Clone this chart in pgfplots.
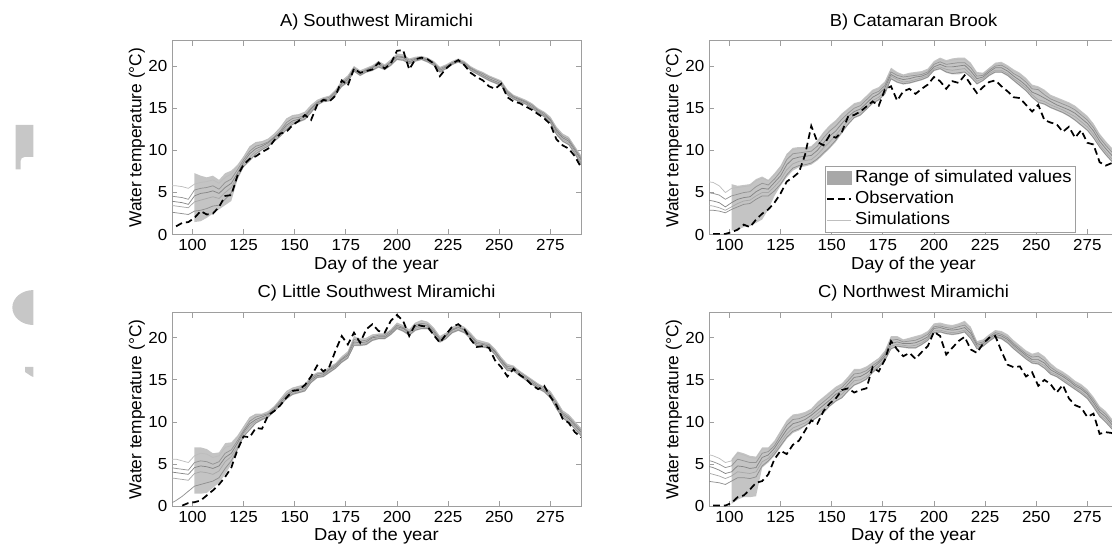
\documentclass[border=0pt]{standalone}
\usepackage{pgfplots}
\pgfplotsset{compat=1.18}
\usepackage{pgfplotstable}
\usepgfplotslibrary{fillbetween}
\usepackage{fontspec}
\setmainfont{Liberation Sans}[FakeStretch=1.06]
\newfontfamily\ylfont{Liberation Sans}
\newcommand\lblfont{\fontsize{13}{15.5}\selectfont}
\newcommand\tickfont{\fontsize{12}{14}\selectfont}
\definecolor{bandc}{gray}{0.77}
\definecolor{legc}{gray}{0.66}
\definecolor{axc}{gray}{0.62}
\definecolor{wm}{gray}{0.78}

\pgfplotstableread{
d lo hi s1 s2 s3 s4 s5 obs
89 0 0 5.8 4.6 4.0 3.5 2.7 nan
92 0 0 5.8 4.5 3.9 3.4 2.6 1.0
95 0 0 5.7 4.4 3.8 3.3 2.5 1.4
98 0 0 5.5 4.2 3.6 3.2 2.4 1.5
101 1.5 7.3 6.0 5.3 4.6 3.9 2.8 2.0
104 1.6 7.0 6.2 5.5 4.9 4.1 2.9 2.8
107 2.0 6.8 6.3 5.6 5.0 4.3 3.1 2.4
110 2.5 7.0 6.5 5.8 5.2 4.5 3.4 2.5
113 3.0 6.5 6.1 5.4 4.9 4.3 3.5 3.3
116 3.5 7.3 6.8 6.2 5.6 5.0 4.2 4.6
119 4.0 7.6 7.2 6.6 6.1 5.6 5.0 4.7
122 6.5 8.3 8.1 7.7 7.3 7.0 6.8 7.0
125 8.0 9.3 9.2 8.9 8.6 8.3 8.1 8.3
128 8.7 10.5 10.4 9.9 9.6 9.2 8.8 9.0
131 9.5 11.0 10.9 10.5 10.2 9.9 9.6 9.3
134 10.0 11.1 11.0 10.7 10.5 10.3 10.1 9.8
137 10.4 11.4 11.3 11.0 10.9 10.7 10.5 10.2
140 11.0 12.0 11.9 11.6 11.5 11.3 11.1 11.2
143 11.6 12.8 12.7 12.3 12.1 11.9 11.7 12.0
146 12.4 13.8 13.7 13.3 13.0 12.8 12.5 12.2
149 13.0 14.2 14.1 13.8 13.5 13.3 13.1 13.0
152 13.3 14.3 14.2 13.9 13.7 13.5 13.4 13.5
155 13.6 14.6 14.5 14.2 14.0 13.8 13.7 14.2
158 14.4 15.4 15.3 15.0 14.9 14.7 14.5 13.6
161 15.3 16.0 15.9 15.7 15.6 15.5 15.4 15.4
164 15.7 16.3 16.2 16.1 16.0 15.9 15.8 16.0
167 15.8 16.5 16.4 16.3 16.1 16.0 15.9 15.8
170 16.5 17.2 17.1 17.0 16.8 16.7 16.6 16.5
173 17.5 18.3 18.2 18.0 17.9 17.7 17.6 18.3
176 18.0 18.9 18.8 18.6 18.4 18.2 18.1 17.7
179 19.3 20.0 19.9 19.8 19.6 19.5 19.4 19.7
182 18.8 19.5 19.4 19.2 19.1 19.0 18.9 19.2
185 19.2 19.8 19.7 19.6 19.5 19.4 19.3 19.4
188 19.4 20.1 20.0 19.9 19.8 19.6 19.5 19.6
191 19.8 20.6 20.5 20.3 20.2 20.0 19.9 20.4
194 19.5 20.2 20.1 20.0 19.8 19.7 19.6 19.7
197 20.0 20.8 20.7 20.5 20.4 20.2 20.1 20.3
200 20.7 21.5 21.4 21.2 21.1 20.9 20.8 21.8
203 20.6 21.4 21.3 21.1 21.0 20.8 20.7 21.9
206 20.2 20.9 20.8 20.7 20.5 20.4 20.3 19.6
209 20.5 21.1 21.0 20.9 20.8 20.7 20.6 20.8
212 20.7 21.2 21.1 21.0 20.9 20.8 20.8 21.0
215 20.4 21.0 20.9 20.8 20.7 20.6 20.5 20.8
218 20.0 20.6 20.5 20.4 20.3 20.2 20.1 20.3
221 19.2 19.9 19.8 19.7 19.5 19.4 19.3 18.8
224 19.6 20.2 20.1 20.0 19.9 19.8 19.7 19.7
227 20.1 20.6 20.5 20.4 20.3 20.2 20.2 20.3
230 20.4 20.9 20.8 20.7 20.6 20.5 20.5 20.7
233 20.1 20.6 20.5 20.4 20.3 20.2 20.2 20.1
236 19.4 20.0 19.9 19.8 19.7 19.6 19.5 19.2
239 19.0 19.6 19.5 19.4 19.3 19.2 19.1 18.7
242 18.6 19.3 19.2 19.1 18.9 18.8 18.7 18.3
245 18.2 18.9 18.8 18.7 18.5 18.4 18.3 17.6
248 17.9 18.6 18.5 18.4 18.2 18.1 18.0 17.3
251 17.6 18.3 18.2 18.1 17.9 17.8 17.7 17.9
254 16.5 17.2 17.1 17.0 16.8 16.7 16.6 16.3
257 16.0 16.6 16.5 16.4 16.3 16.2 16.1 15.8
260 15.7 16.3 16.2 16.1 16.0 15.9 15.8 15.6
263 15.4 16.0 15.9 15.8 15.7 15.6 15.5 15.2
266 14.9 15.6 15.5 15.4 15.2 15.1 15.0 14.8
269 14.4 15.0 14.9 14.8 14.7 14.6 14.5 14.3
272 13.9 14.6 14.5 14.4 14.2 14.1 14.0 13.8
275 13.2 14.0 13.9 13.7 13.6 13.4 13.3 13.1
278 11.8 12.8 12.7 12.5 12.3 12.1 11.9 11.3
281 11.0 12.0 11.9 11.7 11.5 11.3 11.1 10.6
284 10.6 11.6 11.5 11.3 11.1 10.9 10.7 10.2
287 9.5 10.5 10.4 10.2 10.0 9.8 9.6 9.3
290 8.3 9.4 9.3 9.1 8.9 8.6 8.4 8.0
}\tA

\pgfplotstableread{
d lo hi s1 s2 s3 s4 s5 obs
89 0 0 6.3 5.0 4.1 3.5 2.9 nan
92 0 0 6.2 4.9 4.0 3.4 2.9 0.1
95 0 0 5.8 4.7 3.8 3.2 2.8 0.1
98 0 0 5.0 4.2 3.3 2.9 2.6 0.1
101 0.5 6.0 5.5 4.6 3.8 3.3 3.0 0.3
104 0.6 5.8 5.6 4.8 4.2 3.7 3.3 0.6
107 0.9 5.9 5.7 5.0 4.4 4.0 3.6 1.2
110 1.0 6.0 5.8 5.1 4.5 4.1 3.7 0.9
113 1.4 6.6 6.4 5.7 5.1 4.6 4.2 1.8
116 1.8 6.9 6.7 6.1 5.5 5.0 4.6 2.5
119 3.0 6.5 6.4 5.9 5.4 5.0 4.6 3.0
122 4.6 7.3 7.1 6.6 6.2 5.7 5.2 3.8
125 5.8 8.2 8.0 7.5 7.0 6.5 6.0 4.9
128 6.8 9.6 9.4 8.9 8.3 7.7 7.1 6.3
131 7.6 10.3 10.1 9.6 9.0 8.4 7.9 6.8
134 8.0 10.4 10.2 9.7 9.2 8.7 8.2 7.4
137 8.1 10.4 10.2 9.8 9.3 8.8 8.3 9.5
140 8.3 10.5 10.3 9.9 9.4 8.9 8.5 12.9
143 8.8 11.2 11.0 10.5 10.0 9.5 9.0 11.0
146 9.5 12.2 12.0 11.5 10.9 10.3 9.7 10.6
149 10.2 13.0 12.8 12.3 11.7 11.0 10.4 11.8
152 11.0 13.6 13.4 12.9 12.3 11.8 11.2 11.5
155 12.0 14.4 14.2 13.7 13.2 12.7 12.2 12.2
158 13.0 15.0 14.8 14.4 14.0 13.5 13.1 14.0
161 13.8 15.6 15.4 15.0 14.6 14.2 13.9 14.2
164 14.1 15.8 15.6 15.3 14.9 14.5 14.2 14.6
167 14.8 16.5 16.3 16.0 15.6 15.2 14.9 15.2
170 15.5 17.2 17.0 16.7 16.3 15.9 15.6 15.8
173 15.9 17.5 17.3 17.0 16.7 16.3 16.0 15.3
176 16.6 18.2 18.0 17.7 17.4 17.0 16.7 17.2
179 18.4 19.8 19.6 19.3 19.0 18.8 18.5 17.6
182 18.0 19.3 19.1 18.9 18.6 18.4 18.1 15.9
185 17.8 19.0 18.9 18.7 18.4 18.1 17.9 17.0
188 17.9 19.2 19.0 18.8 18.5 18.2 18.0 17.3
191 18.1 19.3 19.1 18.9 18.7 18.4 18.2 16.7
194 18.3 19.4 19.2 19.0 18.8 18.6 18.4 17.3
197 18.6 19.7 19.5 19.3 19.1 18.9 18.7 17.8
200 19.4 20.6 20.4 20.2 19.9 19.7 19.5 18.7
203 19.6 21.0 20.8 20.5 20.2 19.9 19.7 18.2
206 19.2 20.7 20.5 20.2 19.9 19.6 19.3 17.3
209 19.0 20.9 20.7 20.3 19.9 19.5 19.1 18.2
212 19.0 21.0 20.8 20.4 20.0 19.6 19.2 18.0
215 19.2 21.0 20.8 20.4 20.1 19.7 19.3 18.9
218 18.6 20.4 20.2 19.8 19.4 19.0 18.7 17.8
221 17.8 19.3 19.1 18.8 18.5 18.2 17.9 16.8
224 18.2 19.2 19.1 18.9 18.7 18.5 18.3 17.5
227 18.8 19.8 19.7 19.5 19.3 19.1 18.9 18.1
230 19.2 20.4 20.2 20.0 19.8 19.5 19.3 18.3
233 19.2 20.5 20.3 20.1 19.8 19.5 19.3 17.6
236 18.8 20.1 19.9 19.7 19.4 19.1 18.9 17.0
239 18.2 19.6 19.4 19.1 18.8 18.5 18.3 16.3
242 17.6 19.2 19.0 18.7 18.3 18.0 17.7 16.2
245 17.0 18.6 18.4 18.1 17.7 17.4 17.1 15.4
248 16.2 17.8 17.6 17.3 16.9 16.6 16.3 14.6
251 15.6 17.6 17.4 17.2 16.6 16.0 15.7 15.4
254 15.4 17.2 17.0 16.6 16.2 15.8 15.5 13.6
257 15.0 16.6 16.4 16.1 15.8 15.4 15.1 13.3
260 14.7 16.3 16.1 15.8 15.4 15.1 14.8 13.1
263 14.4 16.0 15.8 15.5 15.1 14.8 14.5 12.2
266 14.0 15.7 15.5 15.2 14.8 14.4 14.1 12.8
269 13.5 15.3 15.1 14.8 14.4 14.0 13.6 11.5
272 12.9 14.7 14.5 14.2 13.8 13.4 13.0 12.4
275 12.3 14.1 13.9 13.6 13.2 12.8 12.4 10.9
278 11.4 13.2 13.0 12.7 12.3 11.9 11.5 10.7
281 10.3 12.0 11.8 11.5 11.1 10.7 10.4 8.6
284 9.4 11.1 10.9 10.6 10.2 9.8 9.5 8.2
287 8.6 10.3 10.1 9.8 9.4 9.0 8.7 8.5
290 7.9 9.6 9.4 9.1 8.7 8.3 8.0 7.5
}\tB

\pgfplotstableread{
d lo hi s1 s2 s3 s4 s5 obs
89 0 0 5.6 4.6 4.1 3.4 0.3 nan
92 0 0 5.6 4.5 4.0 3.3 0.7 nan
95 0 0 5.4 4.4 3.9 3.2 1.2 0.1
98 0 0 5.2 4.3 3.8 3.1 1.8 0.4
101 1.5 7.0 6.0 5.2 4.6 3.9 2.4 0.5
104 1.5 7.0 6.3 5.4 4.8 4.1 2.6 0.7
107 1.6 6.8 6.2 5.3 4.7 4.0 2.8 1.3
110 2.2 6.3 5.8 5.0 4.5 3.8 3.0 1.9
113 2.8 6.4 6.0 5.3 4.8 4.2 3.4 2.6
116 3.8 7.5 7.0 6.3 5.8 5.3 4.5 3.5
119 5.0 7.6 7.2 6.7 6.3 5.9 5.4 4.6
122 6.6 8.4 8.2 7.8 7.5 7.1 6.8 6.7
125 8.2 9.5 9.4 9.0 8.8 8.6 8.3 8.3
128 9.0 10.6 10.5 10.1 9.8 9.5 9.1 8.2
131 9.8 11.0 10.9 10.6 10.3 10.1 9.9 9.3
134 10.2 11.0 10.9 10.8 10.6 10.4 10.3 9.2
137 10.5 11.3 11.2 11.0 10.9 10.7 10.6 10.8
140 11.2 11.9 11.8 11.7 11.5 11.4 11.3 11.3
143 11.9 12.8 12.7 12.5 12.3 12.1 12.0 12.0
146 12.7 13.7 13.6 13.3 13.1 12.9 12.8 12.9
149 13.2 14.1 14.0 13.8 13.6 13.4 13.3 13.7
152 13.4 14.3 14.2 14.0 13.8 13.6 13.5 13.8
155 13.6 14.5 14.4 14.2 14.0 13.8 13.7 14.4
158 14.6 15.5 15.4 15.2 15.0 14.8 14.7 15.4
161 15.2 15.9 15.8 15.7 15.5 15.4 15.3 16.7
164 15.3 16.0 15.9 15.8 15.6 15.5 15.4 16.0
167 15.8 16.6 16.5 16.3 16.2 16.0 15.9 16.6
170 16.3 17.0 16.9 16.8 16.6 16.5 16.4 18.5
173 17.0 17.8 17.7 17.5 17.4 17.2 17.1 20.2
176 17.5 18.4 18.3 18.1 17.9 17.7 17.6 19.2
179 19.0 20.2 20.0 19.8 19.5 19.3 19.1 20.6
182 19.0 19.9 19.8 19.6 19.4 19.2 19.1 19.4
185 19.1 20.0 19.9 19.7 19.5 19.3 19.2 21.0
188 19.6 20.4 20.3 20.1 20.0 19.8 19.7 21.6
191 19.8 20.5 20.4 20.3 20.1 20.0 19.9 20.8
194 19.8 20.5 20.4 20.3 20.1 20.0 19.9 20.6
197 20.3 21.0 20.9 20.8 20.6 20.5 20.4 22.0
200 21.0 21.8 21.7 21.5 21.3 21.2 21.1 22.7
203 20.7 21.5 21.4 21.2 21.1 20.9 20.8 22.0
206 20.2 21.0 20.9 20.7 20.6 20.4 20.3 20.2
209 20.8 21.8 21.7 21.5 21.3 21.1 20.9 21.6
212 21.0 22.1 22.0 21.7 21.5 21.3 21.1 21.4
215 21.0 21.9 21.8 21.6 21.4 21.2 21.1 21.3
218 20.3 21.2 21.1 20.9 20.7 20.5 20.4 20.3
221 19.4 20.2 20.1 19.9 19.7 19.6 19.5 19.4
224 19.8 20.6 20.5 20.3 20.2 20.0 19.9 20.4
227 20.5 21.3 21.2 21.0 20.9 20.7 20.6 21.3
230 20.8 21.6 21.5 21.3 21.2 21.0 20.9 21.6
233 20.5 21.3 21.2 21.0 20.9 20.7 20.6 21.0
236 19.8 20.6 20.5 20.3 20.2 20.0 19.9 19.8
239 18.9 19.8 19.7 19.5 19.3 19.1 19.0 18.9
242 18.8 19.6 19.5 19.3 19.2 19.0 18.9 19.0
245 18.7 19.4 19.3 19.2 19.0 18.9 18.8 18.8
248 17.9 18.7 18.6 18.4 18.3 18.1 18.0 17.3
251 16.9 17.7 17.6 17.4 17.3 17.1 17.0 16.5
254 16.0 16.9 16.8 16.6 16.4 16.2 16.1 15.4
257 16.0 16.7 16.6 16.5 16.3 16.2 16.1 16.3
260 15.4 16.1 16.0 15.9 15.7 15.6 15.5 15.6
263 14.9 15.6 15.5 15.4 15.2 15.1 15.0 15.1
266 14.4 15.1 15.0 14.9 14.7 14.6 14.5 14.4
269 13.9 14.6 14.5 14.4 14.2 14.1 14.0 13.9
272 13.5 14.2 14.1 14.0 13.8 13.7 13.6 14.3
275 12.8 13.7 13.6 13.4 13.2 13.0 12.9 13.0
278 11.5 12.6 12.5 12.3 12.0 11.8 11.6 12.0
281 10.4 11.4 11.3 11.1 10.9 10.7 10.5 10.4
284 9.9 10.9 10.8 10.6 10.4 10.2 10.0 9.9
287 9.1 10.1 10.0 9.8 9.6 9.4 9.2 8.8
290 8.3 9.3 9.2 9.0 8.8 8.6 8.4 8.2
}\tC

\pgfplotstableread{
d lo hi s1 s2 s3 s4 s5 obs
89 0 0 6.2 5.5 4.8 4.0 3.0 nan
92 0 0 6.0 5.3 4.6 3.8 2.9 0.1
95 0 0 5.7 5.0 4.3 3.6 2.8 0.1
98 0 0 5.2 4.6 3.9 3.3 2.6 0.1
101 0.3 5.6 5.4 4.8 4.1 3.6 3.0 0.4
104 0.8 6.5 6.3 5.6 4.8 4.1 3.4 1.1
107 1.1 6.3 6.1 5.4 4.7 4.0 3.4 1.3
110 1.1 6.0 5.8 5.2 4.5 3.9 3.3 2.0
113 1.2 5.9 5.7 5.2 4.6 4.1 3.5 2.8
116 4.6 7.0 6.8 6.3 5.8 5.3 4.8 3.0
119 5.2 7.0 6.8 6.5 6.1 5.7 5.4 3.8
122 6.0 7.8 7.6 7.2 6.9 6.5 6.2 5.6
125 7.0 9.0 8.8 8.4 8.0 7.6 7.2 6.6
128 8.0 10.2 10.0 9.6 9.1 8.6 8.2 6.2
131 8.7 10.9 10.7 10.3 9.8 9.3 8.9 7.3
134 9.0 11.0 10.8 10.4 10.0 9.6 9.2 7.8
137 9.5 11.2 11.0 10.7 10.3 9.9 9.6 9.0
140 10.0 11.6 11.4 11.1 10.8 10.4 10.1 10.2
143 10.5 12.4 12.2 11.8 11.4 11.0 10.6 9.8
146 11.0 13.0 12.8 12.4 12.0 11.6 11.2 11.3
149 11.8 13.6 13.4 13.0 12.6 12.2 11.9 12.2
152 12.4 14.2 14.0 13.7 13.3 12.9 12.5 12.8
155 12.8 14.6 14.4 14.1 13.7 13.3 12.9 13.8
158 13.6 15.4 15.2 14.9 14.5 14.1 13.7 14.0
161 14.3 16.3 16.1 15.7 15.3 14.9 14.4 13.5
164 14.6 16.3 16.1 15.8 15.4 15.0 14.7 13.8
167 15.0 16.6 16.4 16.1 15.8 15.4 15.1 14.0
170 15.8 17.1 17.0 16.7 16.4 16.1 15.9 16.5
173 16.4 17.6 17.5 17.2 17.0 16.7 16.5 16.0
176 17.2 18.5 18.3 18.1 17.8 17.5 17.3 17.4
179 18.6 20.2 20.0 19.7 19.3 19.0 18.7 19.6
182 18.9 20.2 20.0 19.8 19.5 19.2 19.0 18.6
185 18.8 19.8 19.7 19.5 19.3 19.1 18.9 17.8
188 18.7 20.0 19.8 19.6 19.3 19.0 18.8 18.2
191 18.7 20.2 20.0 19.7 19.4 19.1 18.8 17.5
194 19.1 20.4 20.2 20.0 19.7 19.4 19.2 18.3
197 19.6 20.8 20.6 20.4 20.1 19.9 19.7 19.0
200 20.5 21.7 21.5 21.3 21.1 20.8 20.6 20.7
203 20.6 21.8 21.6 21.4 21.2 20.9 20.7 20.2
206 20.4 21.6 21.4 21.2 21.0 20.7 20.5 18.0
209 20.3 21.5 21.3 21.1 20.9 20.6 20.4 18.8
212 20.4 21.7 21.5 21.3 21.0 20.7 20.5 19.6
215 20.6 22.0 21.8 21.5 21.2 20.9 20.7 20.1
218 19.8 21.3 21.1 20.8 20.5 20.2 19.9 18.6
221 18.6 19.6 19.5 19.3 19.1 18.9 18.7 18.2
224 18.9 19.8 19.7 19.5 19.3 19.1 19.0 19.3
227 19.5 20.4 20.3 20.1 19.9 19.7 19.6 20.0
230 20.0 20.9 20.8 20.6 20.4 20.2 20.1 20.2
233 19.8 20.8 20.6 20.4 20.2 20.0 19.9 18.4
236 19.3 20.4 20.2 20.0 19.8 19.6 19.4 16.8
239 18.6 19.7 19.5 19.3 19.1 18.9 18.7 16.5
242 18.0 19.1 18.9 18.7 18.5 18.3 18.1 16.6
245 17.4 18.5 18.3 18.1 17.9 17.7 17.5 15.4
248 16.9 18.1 17.9 17.7 17.4 17.2 17.0 15.9
251 16.8 18.3 18.1 17.8 17.4 17.1 16.9 14.3
254 16.3 17.8 17.6 17.3 17.0 16.7 16.4 15.0
257 15.6 17.0 16.8 16.5 16.2 15.9 15.7 14.5
260 15.3 16.4 16.2 16.0 15.8 15.6 15.4 13.5
263 14.8 16.0 15.8 15.6 15.4 15.1 14.9 14.4
266 14.3 15.5 15.3 15.1 14.9 14.6 14.4 12.8
269 13.8 14.9 14.7 14.5 14.3 14.1 13.9 12.0
272 13.3 14.5 14.3 14.1 13.9 13.6 13.4 11.7
275 12.7 13.9 13.7 13.5 13.3 13.0 12.8 10.6
278 11.7 13.0 12.8 12.6 12.3 12.0 11.8 11.0
281 10.6 11.9 11.7 11.5 11.2 10.9 10.7 8.6
284 9.9 11.3 11.1 10.9 10.6 10.3 10.0 8.8
287 9.1 10.4 10.2 10.0 9.7 9.4 9.2 8.7
290 8.4 9.8 9.6 9.4 9.1 8.8 8.5 7.6
}\tD

\pgfplotsset{
  panel/.style={
    scale only axis, width=306.75pt, height=145.5pt, anchor=south west,
    xmin=90, xmax=290, ymin=0, ymax=23,
    xtick={100,125,150,175,200,225,250,275}, ytick={0,5,10,15,20},
    tick align=inside, major tick length=4pt,
    axis line style={draw=axc, line width=0.6pt},
    tick style={draw=axc, line width=0.6pt},
    /pgf/number format/assume math mode=true,
    tick label style={font=\tickfont},
    xlabel={Day of the year}, ylabel={\ylfont Water temperature (°C)},
    x label style={at={(axis description cs:0.5,-0.155)}, anchor=center, font=\lblfont},
    y label style={at={(axis description cs:-0.0856,0.5)}, anchor=center, font=\lblfont},
    title style={at={(axis description cs:0.5,1.057)}, anchor=center, font=\lblfont},
  },
  band/.style={fill=bandc, draw=none},
  obsline/.style={black, line width=1.3pt, dash pattern=on 5pt off 3pt},
  sa/.style={black!26, line width=0.55pt},
  sb/.style={black!42, line width=0.55pt},
  sc/.style={black!48, line width=0.55pt},
  sd/.style={black!34, line width=0.55pt},
  se/.style={black!44, line width=0.55pt},
}

\newcommand\panelplots[1]{%
  \addplot[name path=hi, draw=none, forget plot, skip coords between index={0}{4}] table[x=d,y=hi]{#1};
  \addplot[name path=lo, draw=none, forget plot, skip coords between index={0}{4}] table[x=d,y=lo]{#1};
  \addplot[band, forget plot] fill between[of=hi and lo];
  \addplot[sa, forget plot] table[x=d,y=s1]{#1};
  \addplot[sb, forget plot] table[x=d,y=s2]{#1};
  \addplot[sc, forget plot] table[x=d,y=s3]{#1};
  \addplot[sd, forget plot] table[x=d,y=s4]{#1};
  \addplot[se, forget plot] table[x=d,y=s5]{#1};
  \addplot[obsline, forget plot] table[x=d,y=obs]{#1};
}

\begin{document}
\begin{tikzpicture}
\begin{axis}[panel, at={(129pt,232.7pt)}, title={A) Southwest Miramichi}]
\panelplots{\tA}
\end{axis}

\begin{axis}[panel, at={(531.75pt,232.7pt)}, title={B) Catamaran Brook},
  legend cell align=left,
  legend style={at={(0.2836,0.356)}, anchor=north west, draw=axc, fill=white, font=\lblfont,
    inner sep=1pt, nodes={inner sep=2pt, text height=9.3pt, text depth=2.7pt}}]
\panelplots{\tB}
\addlegendimage{legend image code/.code={\fill[legc] (0pt,-5pt) rectangle (18pt,5pt);}}
\addlegendentry{Range of simulated values}
\addlegendimage{legend image code/.code={\draw[black, line width=1.3pt, dash pattern=on 5pt off 3pt] (0pt,0pt) -- (18pt,0pt);}}
\addlegendentry{Observation}
\addlegendimage{legend image code/.code={\draw[black!25, line width=0.6pt] (0pt,0pt) -- (18pt,0pt);}}
\addlegendentry{Simulations}
\end{axis}

\begin{axis}[panel, at={(129pt,28.95pt)}, title={C) Little Southwest Miramichi}]
\panelplots{\tC}
\end{axis}

\begin{axis}[panel, at={(531.75pt,28.95pt)}, title={C) Northwest Miramichi}]
\panelplots{\tD}
\end{axis}

% faint fragments at the left edge
\fill[wm] (11.8pt,315pt) -- (25pt,315pt) -- (25pt,291pt) -- (18.4pt,291pt) to[out=180,in=90] (15.4pt,288pt) -- (15.4pt,281.8pt) -- (11.8pt,281.8pt) -- cycle;
\fill[wm] (25pt,191.2pt) arc[start angle=90, end angle=270, x radius=15.75pt, y radius=13.1pt] -- cycle;
\fill[wm] (18.75pt,133.5pt) -- (25pt,133.5pt) -- (25pt,126pt) -- (23.25pt,126.75pt) -- (18.75pt,129.75pt) -- cycle;
\pgfresetboundingbox
\path (0pt,0pt) rectangle (834pt,408.75pt);
\end{tikzpicture}
\end{document}
